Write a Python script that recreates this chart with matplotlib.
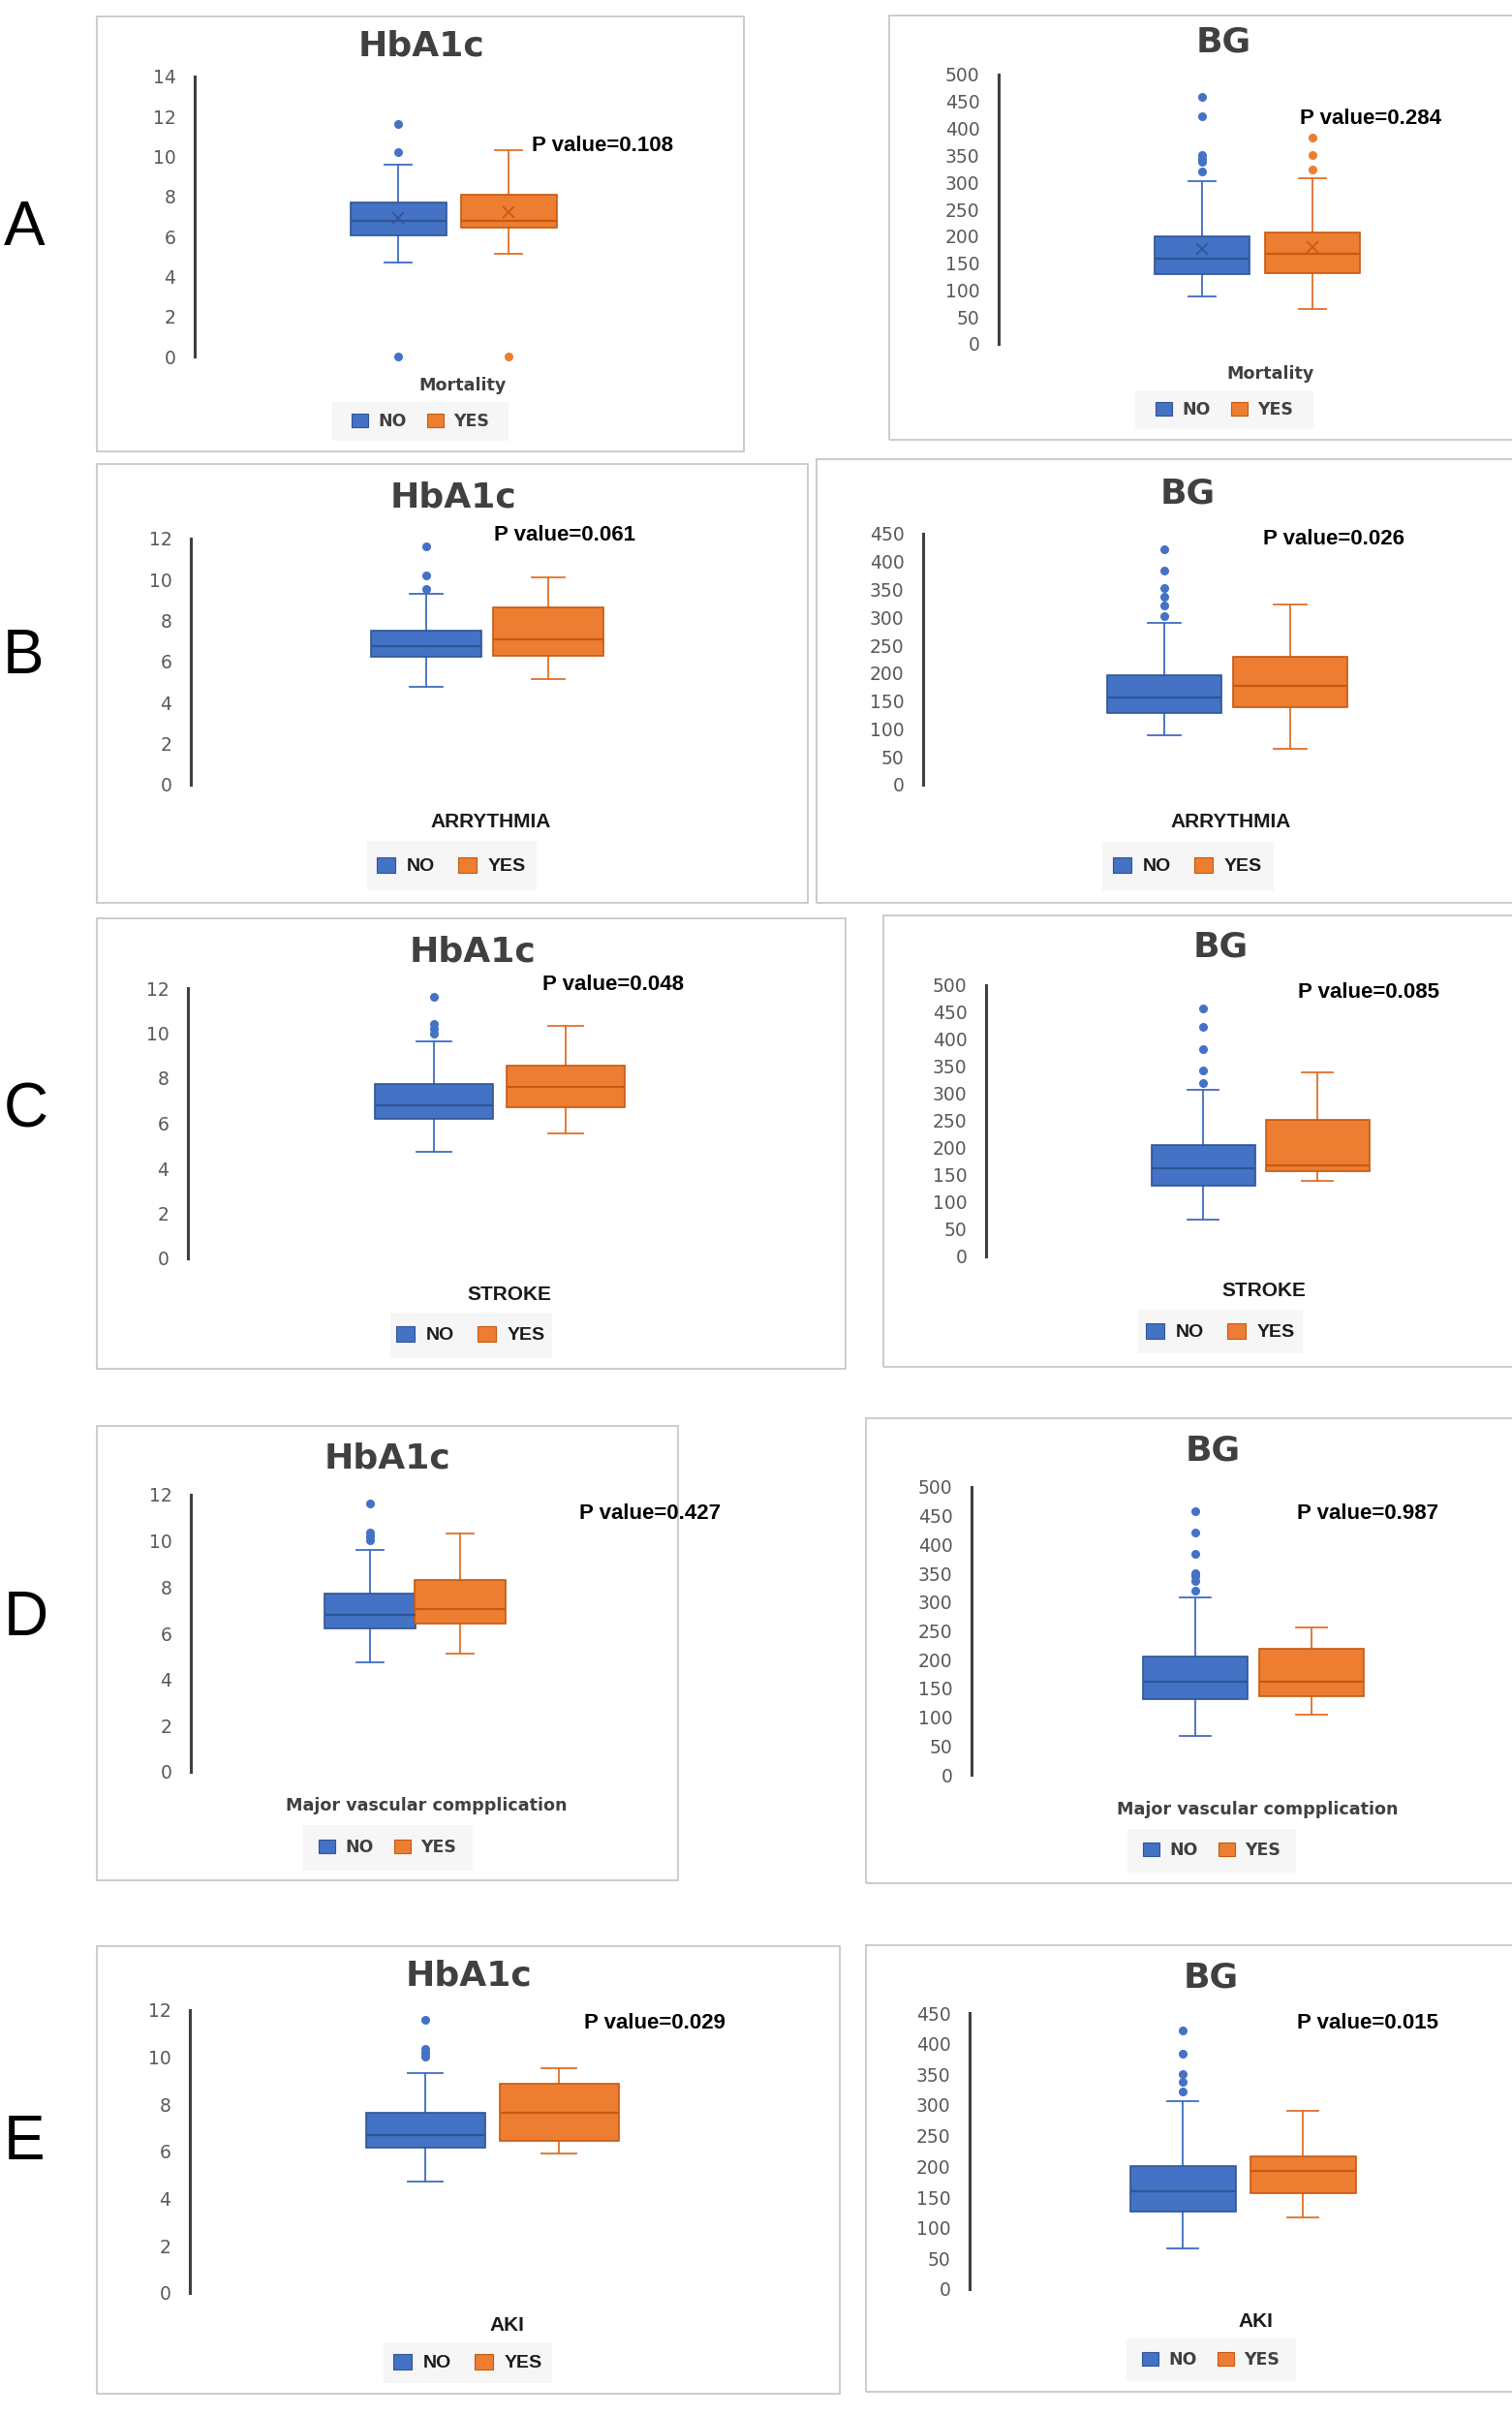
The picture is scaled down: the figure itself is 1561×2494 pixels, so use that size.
import matplotlib
matplotlib.use("Agg")
import matplotlib.pyplot as plt
import numpy as np
from matplotlib.patches import Patch, Rectangle

W, H, DPI = 1561, 2494, 100

# ---- data ------------------------------------------------------------------
OUTCOMES = ["Mortality", "ARRYTHMIA", "STROKE", "Major vascular compplication", "AKI"]
ROW_LETTERS = ["A", "B", "C", "D", "E"]
GROUPS = ["NO", "YES"]

HBA1C_P = ["0.108", "0.061", "0.048", "0.427", "0.029"]
BG_P = ["0.284", "0.026", "0.085", "0.987", "0.015"]

# five-number summaries: [lower whisker, Q1, median, Q3, upper whisker]
HBA1C_NO = [
    [4.71, 6.05, 6.80, 7.72, 9.61],
    [4.76, 6.24, 6.77, 7.51, 9.31],
    [4.71, 6.20, 6.80, 7.73, 9.64],
    [4.74, 6.19, 6.80, 7.71, 9.60],
    [4.74, 6.18, 6.70, 7.65, 9.31],
]
HBA1C_YES = [
    [5.13, 6.42, 6.80, 8.07, 10.31],
    [5.13, 6.30, 7.07, 8.65, 10.11],
    [5.53, 6.72, 7.62, 8.55, 10.34],
    [5.10, 6.43, 7.05, 8.32, 10.32],
    [5.92, 6.45, 7.65, 8.87, 9.54],
]
HBA1C_NO_FLIERS = [
    [11.65, 10.24, 0.0],
    [11.61, 10.19, 9.56],
    [11.60, 10.40, 10.20, 10.00],
    [11.62, 10.37, 10.20, 10.02],
    [11.59, 10.35, 10.21, 10.02],
]
HBA1C_YES_FLIERS = [[0.0], [], [], [], []]
HBA1C_MEANS = [[6.91, 7.22], None, None, None, None]

BG_NO = [
    [89, 129, 159, 200, 303],
    [88, 128, 157, 197, 291],
    [67, 130, 162, 205, 308],
    [68, 131, 161, 205, 308],
    [67, 127, 159, 200, 307],
]
BG_YES = [
    [65, 131, 168, 207, 308],
    [65, 139, 177, 230, 324],
    [139, 157, 168, 252, 339],
    [104, 136, 161, 219, 256],
    [117, 157, 192, 217, 291],
]
BG_NO_FLIERS = [
    [459, 422, 350, 344, 338, 321],
    [422, 384, 352, 337, 321, 302],
    [458, 423, 383, 342, 320],
    [458, 421, 384, 351, 345, 337, 320],
    [422, 384, 351, 338, 322],
]
BG_YES_FLIERS = [[383, 351, 324], [], [], [], []]
BG_MEANS = [[176, 179], None, None, None, None]

HBA1C_YMAX = [14, 12, 12, 12, 12]
BG_YMAX = [500, 450, 500, 500, 450]

# ---- layout (pixel positions in the output image) ---------------------------
# frame, axis x, y of top tick, y of zero tick, box centres, box width,
# title centre, p-value left/centre, x-label centre, legend centre + size
LAYOUT = {
    ("A", "hba1c"): dict(frame=(100, 17, 768, 466), ax_x=201, y_top=79, y_zero=368,
                         c=(411, 525), bw=99, title=(435, 47), pval=(549, 150),
                         xlab=(477, 398), leg=(434, 435, 182, 40), xf="wide", lf="wide"),
    ("A", "bg"): dict(frame=(918, 16, 1580, 454), ax_x=1031, y_top=77, y_zero=355,
                      c=(1241, 1355), bw=98, title=(1263, 43), pval=(1342, 123),
                      xlab=(1312, 386), leg=(1264, 423, 184, 40), xf="wide", lf="wide"),
    ("B", "hba1c"): dict(frame=(100, 479, 834, 932), ax_x=197, y_top=556, y_zero=810,
                         c=(440, 566), bw=114, title=(468, 514), pval=(510, 553),
                         xlab=(507, 848), leg=(466, 894, 175, 51), xf="narrow", lf="narrow"),
    ("B", "bg"): dict(frame=(843, 474, 1580, 932), ax_x=953, y_top=551, y_zero=810,
                      c=(1202, 1332), bw=118, title=(1226, 509), pval=(1304, 556),
                      xlab=(1271, 849), leg=(1226, 894, 177, 50), xf="narrow", lf="narrow"),
    ("C", "hba1c"): dict(frame=(100, 948, 873, 1413), ax_x=194, y_top=1020, y_zero=1299,
                         c=(448, 584), bw=122, title=(488, 982), pval=(560, 1017),
                         xlab=(526, 1336), leg=(486, 1378, 167, 47), xf="narrow", lf="narrow"),
    ("C", "bg"): dict(frame=(912, 945, 1580, 1411), ax_x=1018, y_top=1017, y_zero=1297,
                      c=(1242, 1360), bw=107, title=(1260, 977), pval=(1340, 1024),
                      xlab=(1305, 1332), leg=(1260, 1375, 170, 45), xf="narrow", lf="narrow"),
    ("D", "hba1c"): dict(frame=(100, 1472, 700, 1941), ax_x=197, y_top=1543, y_zero=1829,
                         c=(382, 475), bw=94, title=(400, 1505), pval=(598, 1562),
                         xlab=(440, 1864), leg=(400, 1907, 175, 47), xf="wide", lf="wide"),
    ("D", "bg"): dict(frame=(894, 1464, 1580, 1944), ax_x=1003, y_top=1535, y_zero=1832,
                      c=(1234, 1354), bw=108, title=(1252, 1497), pval=(1339, 1562),
                      xlab=(1298, 1868), leg=(1251, 1910, 174, 45), xf="wide", lf="wide"),
    ("E", "hba1c"): dict(frame=(100, 2009, 867, 2471), ax_x=196, y_top=2075, y_zero=2367,
                         c=(439, 577), bw=123, title=(484, 2039), pval=(603, 2089),
                         xlab=(523, 2400), leg=(483, 2439, 174, 42), xf="narrow", lf="narrow"),
    ("E", "bg"): dict(frame=(894, 2008, 1580, 2469), ax_x=1001, y_top=2078, y_zero=2363,
                      c=(1221, 1345), bw=109, title=(1250, 2041), pval=(1339, 2088),
                      xlab=(1296, 2396), leg=(1250, 2436, 175, 44), xf="narrow", lf="wide"),
}
LETTER_POS = [(25, 236), (24, 678), (27, 1146), (27, 1671), (25, 2212)]

FILL = ["#4472C4", "#ED7D31"]
EDGE = ["#2F5597", "#C55A11"]
WHISK = ["#3F6CBF", "#E0712A"]
WIDE = ["DejaVu Sans"]
NARROW = ["Liberation Sans Narrow", "Liberation Sans", "DejaVu Sans"]


def fx(x):
    return x / W


def fy(y):
    return 1 - y / H


def draw_panel(fig, g, summaries, fliers, means, ymax, ystep, title, pval, xlabel):
    x0, y0, x1, y1 = g["frame"]
    fig.add_artist(Rectangle((fx(x0), fy(y1)), (x1 - x0) / W, (y1 - y0) / H,
                             transform=fig.transFigure, fill=False,
                             edgecolor="#c8c8c8", lw=1.3))

    right = min(x1 - 15, W)
    ax = fig.add_axes([fx(g["ax_x"]), fy(g["y_zero"]), (right - g["ax_x"]) / W,
                       (g["y_zero"] - g["y_top"]) / H])
    ax.set_facecolor("none")

    c_no, c_yes = g["c"]
    ppu = c_yes - c_no
    ax.set_xlim(1 + (g["ax_x"] - c_no) / ppu, 1 + (right - c_no) / ppu)
    ax.set_ylim(0, ymax)

    stats = []
    for i, s in enumerate(summaries):
        d = dict(whislo=s[0], q1=s[1], med=s[2], q3=s[3], whishi=s[4],
                 fliers=np.array(fliers[i], dtype=float))
        if means is not None:
            d["mean"] = means[i]
        stats.append(d)

    bw = g["bw"] / ppu
    res = ax.bxp(stats, positions=[1, 2], widths=bw, capwidths=bw * 0.29,
                 patch_artist=True, showmeans=means is not None,
                 showfliers=True, manage_ticks=False)
    for i in range(2):
        res["boxes"][i].set(facecolor=FILL[i], edgecolor=EDGE[i], lw=1.2, zorder=3)
        res["medians"][i].set(color=EDGE[i], lw=1.6, zorder=4)
        for art in res["whiskers"][2 * i:2 * i + 2] + res["caps"][2 * i:2 * i + 2]:
            art.set(color=WHISK[i], lw=1.3)
        res["fliers"][i].set(marker="o", markerfacecolor=FILL[i],
                             markeredgecolor=FILL[i], markersize=5.5, clip_on=False)
        if means is not None:
            res["means"][i].set(marker="x", markeredgecolor=EDGE[i],
                                markersize=9, markeredgewidth=1.2, zorder=5)

    for side in ("top", "right", "bottom"):
        ax.spines[side].set_visible(False)
    ax.spines["left"].set(linewidth=2.2, color="#404040")
    ax.set_xticks([])
    ax.set_yticks(np.arange(0, ymax + ystep / 2, ystep))
    ax.tick_params(axis="y", length=0, pad=14, labelsize=13.5, labelcolor="#595959")
    for lab in ax.get_yticklabels():
        lab.set_family(WIDE)

    # texts
    tx, ty = g["title"]
    fig.text(fx(tx), fy(ty), title, ha="center", va="center", fontsize=26,
             fontweight="bold", color="#404040", family=WIDE)
    px, py = g["pval"]
    fig.text(fx(px), fy(py), f"P value={pval}", ha="left", va="center",
             fontsize=16, fontweight="bold", color="black", family=NARROW)
    lx, ly = g["xlab"]
    if g["xf"] == "wide":
        fig.text(fx(lx), fy(ly), xlabel, ha="center", va="center", fontsize=12.6,
                 fontweight="bold", color="#404040", family=WIDE)
    else:
        fig.text(fx(lx), fy(ly), xlabel, ha="center", va="center", fontsize=15,
                 fontweight="bold", color="#1a1a1a", family=NARROW)

    cx, cy, lw_, lh = g["leg"]
    fig.add_artist(Rectangle((fx(cx - lw_ / 2), fy(cy + lh / 2)), lw_ / W, lh / H,
                             transform=fig.transFigure, facecolor="#f6f6f6",
                             edgecolor="none", zorder=0))
    handles = [Patch(facecolor=FILL[i], edgecolor=EDGE[i], lw=0.8) for i in range(2)]
    if g["lf"] == "wide":
        prop = dict(family=WIDE, weight="bold", size=12.5)
        lcol = "#404040"
    else:
        prop = dict(family=NARROW, weight="bold", size=14)
        lcol = "#1a1a1a"
    ax.legend(handles, GROUPS, loc="center", bbox_to_anchor=(fx(cx), fy(cy)),
              bbox_transform=fig.transFigure, ncol=2, frameon=False, prop=prop,
              labelcolor=lcol, handlelength=1.0, handleheight=0.9,
              handletextpad=0.6, columnspacing=1.2, borderaxespad=0)


fig = plt.figure(figsize=(W / DPI, H / DPI), dpi=DPI)
fig.patch.set_facecolor("white")

for r, letter in enumerate(ROW_LETTERS):
    draw_panel(fig, LAYOUT[(letter, "hba1c")], [HBA1C_NO[r], HBA1C_YES[r]],
               [HBA1C_NO_FLIERS[r], HBA1C_YES_FLIERS[r]], HBA1C_MEANS[r],
               HBA1C_YMAX[r], 2, "HbA1c", HBA1C_P[r], OUTCOMES[r])
    draw_panel(fig, LAYOUT[(letter, "bg")], [BG_NO[r], BG_YES[r]],
               [BG_NO_FLIERS[r], BG_YES_FLIERS[r]], BG_MEANS[r],
               BG_YMAX[r], 50, "BG", BG_P[r], OUTCOMES[r])
    lx, ly = LETTER_POS[r]
    fig.text(fx(lx), fy(ly), letter, ha="center", va="center", fontsize=46,
             color="black", family=["Liberation Sans", "DejaVu Sans"])

fig.savefig("out.png", dpi=DPI)
